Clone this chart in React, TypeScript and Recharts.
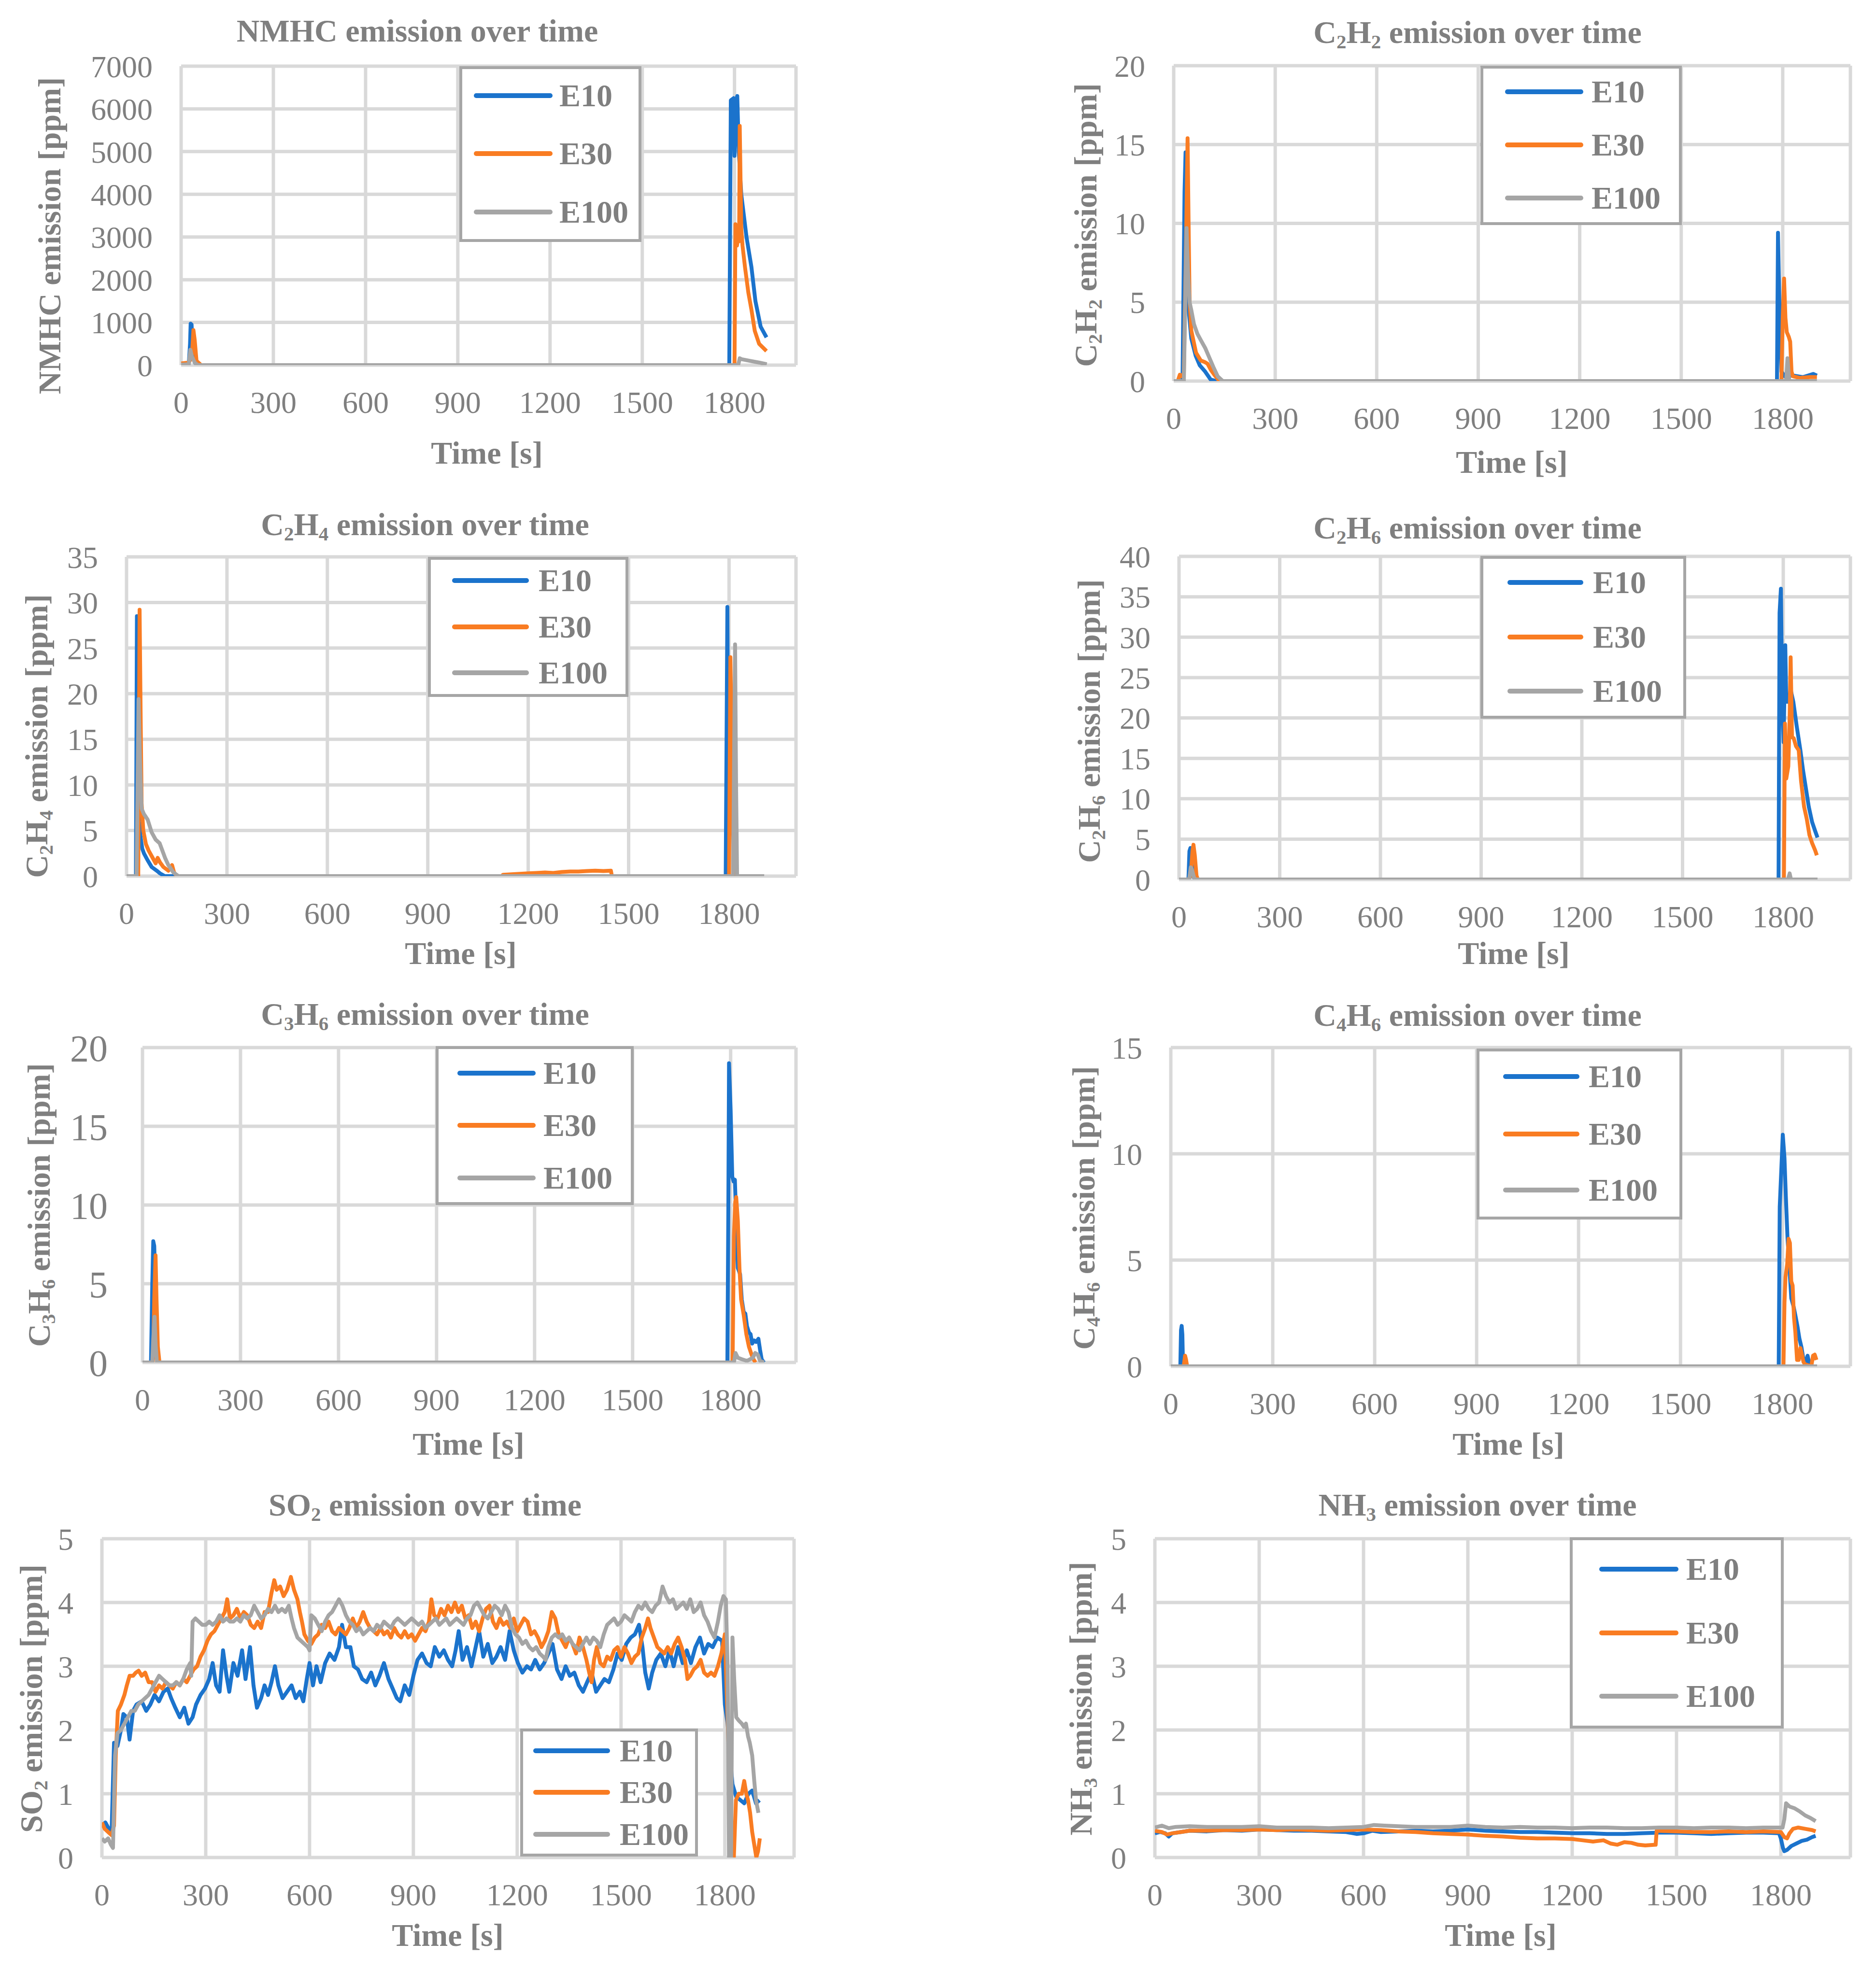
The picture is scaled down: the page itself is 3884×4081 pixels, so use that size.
import { CartesianGrid, Line, LineChart, XAxis, YAxis } from "recharts";

type Pt = [number, number];

const timeTicks = [0, 300, 600, 900, 1200, 1500, 1800];
const seriesNames = ["E10", "E30", "E100"];
const seriesColors = ["#1B73CC", "#F97C22", "#A5A5A5"];

// ---- NMHC ----
const nmhcTicks = [0, 1000, 2000, 3000, 4000, 5000, 6000, 7000];
const nmhcE10: Pt[] = [
  [0, 30], [25, 40], [29, 500], [31, 970], [34, 950], [38, 300], [45, 50], [60, 0],
  [1783, 0], [1788, 6200], [1797, 6250], [1800, 4900], [1805, 6200], [1809, 6300], [1814, 5000],
  [1822, 4000], [1839, 3000], [1855, 2300], [1868, 1500], [1885, 900], [1904, 650],
];
const nmhcE30: Pt[] = [
  [0, 40], [25, 60], [35, 200], [40, 820], [44, 600], [50, 100], [65, 0],
  [1800, 0], [1803, 3300], [1808, 2800], [1812, 3000], [1815, 2900], [1817, 5600], [1822, 3200],
  [1826, 2800], [1834, 2300], [1845, 1700], [1855, 1300], [1866, 800], [1880, 500], [1904, 330],
];
const nmhcE100: Pt[] = [
  [0, 10], [25, 20], [30, 360], [35, 200], [45, 50], [55, 0],
  [1812, 0], [1817, 160], [1822, 140], [1850, 100], [1880, 60], [1905, 20],
];

// ---- C2H2 ----
const c2h2Ticks = [0, 5, 10, 15, 20];
const c2h2E10: Pt[] = [
  [0, 0], [26, 0], [32, 12], [35, 14.5], [38, 9], [42, 5], [52, 2.7], [65, 1.6], [77, 1.0],
  [93, 0.6], [109, 0.1], [126, 0], [1783, 0], [1786, 9.4], [1790, 5], [1796, 0.6], [1806, 0.3],
  [1830, 0.35], [1845, 0.3], [1860, 0.25], [1875, 0.35], [1890, 0.45], [1901, 0.35],
];
const c2h2E30: Pt[] = [
  [0, 0], [12, 0], [18, 0.4], [24, 0.3], [30, 0.5], [36, 8], [41, 15.4], [44, 10], [47, 5],
  [52, 3.2], [58, 2.6], [66, 1.8], [80, 1.3], [92, 1.2], [100, 1.1], [110, 0.7], [120, 0.4],
  [135, 0], [1796, 0], [1800, 4], [1804, 6.5], [1808, 4], [1812, 3.1], [1818, 2.8],
  [1822, 2.5], [1826, 0.6], [1830, 0.3], [1850, 0.2], [1880, 0.25], [1901, 0.25],
];
const c2h2E100: Pt[] = [
  [0, 0], [30, 0], [35, 6], [38, 9.7], [42, 7], [47, 5], [52, 4.5], [60, 3.6], [70, 3.0],
  [80, 2.6], [93, 2.1], [105, 1.5], [117, 0.9], [130, 0.3], [145, 0], [1810, 0], [1814, 1.45],
  [1818, 0.3], [1820, 0], [1901, 0],
];

// ---- C2H4 ----
const c2h4Ticks = [0, 5, 10, 15, 20, 25, 30, 35];
const c2h4E10: Pt[] = [
  [0, 0], [28, 0], [31, 28.5], [34, 15], [38, 6], [41, 4.5], [47, 3], [52, 2.5], [62, 1.8],
  [75, 1.0], [90, 0.6], [100, 0.3], [114, 0], [1790, 0], [1795, 29.5], [1799, 0],
];
const c2h4E30: Pt[] = [
  [0, 0], [35, 0], [37, 15], [39, 29.2], [42, 18], [45, 8], [50, 5], [58, 3.5], [66, 2.8],
  [78, 2.0], [87, 1.4], [93, 2.0], [100, 1.5], [110, 1.0], [125, 0.6], [136, 1.2], [142, 0.4],
  [150, 0], [1120, 0], [1125, 0.15], [1150, 0.2], [1175, 0.25], [1200, 0.3], [1225, 0.35],
  [1250, 0.4], [1275, 0.35], [1300, 0.45], [1325, 0.5], [1350, 0.5], [1375, 0.55], [1400, 0.6],
  [1425, 0.55], [1447, 0.6], [1450, 0], [1800, 0], [1804, 24], [1808, 14], [1812, 5], [1815, 0],
];
const c2h4E100: Pt[] = [
  [0, 0], [30, 0], [33, 10], [36, 19.4], [40, 13], [45, 7.4], [52, 6.8], [63, 6.2], [75, 4.8],
  [87, 4.0], [99, 3.6], [107, 2.8], [115, 2.0], [125, 1.2], [140, 0.4], [155, 0], [1812, 0],
  [1818, 25.4], [1821, 10], [1824, 0], [1905, 0],
];

// ---- C2H6 ----
const c2h6Ticks = [0, 5, 10, 15, 20, 25, 30, 35, 40];
const c2h6E10: Pt[] = [
  [0, 0], [28, 0], [31, 3.5], [34, 3.9], [38, 2], [42, 0.4], [48, 0], [1786, 0], [1789, 33],
  [1793, 36], [1797, 22], [1801, 17], [1806, 29], [1809, 22], [1815, 22], [1822, 23.5],
  [1830, 22], [1840, 19], [1851, 16], [1859, 13.5], [1867, 11.4], [1876, 9], [1886, 7.1],
  [1895, 6], [1902, 5.2],
];
const c2h6E30: Pt[] = [
  [0, 0], [28, 0], [35, 0.5], [40, 3.5], [43, 4.3], [47, 3], [52, 0.5], [56, 0], [1802, 0],
  [1805, 19.3], [1809, 12.5], [1815, 14], [1819, 20], [1822, 27.5], [1826, 17.6], [1831, 17.5],
  [1838, 16.5], [1846, 16], [1853, 12.2], [1862, 9], [1870, 7.5], [1878, 5.5], [1886, 4.5],
  [1895, 3.6], [1900, 3],
];
const c2h6E100: Pt[] = [
  [0, 0], [30, 0], [35, 1.5], [38, 1.3], [45, 0.2], [50, 0], [1814, 0], [1819, 0.75],
  [1823, 0], [1902, 0],
];

// ---- C3H6 ----
const c3h6Ticks = [0, 5, 10, 15, 20];
const c3h6E10: Pt[] = [
  [0, 0], [26, 0], [30, 5], [33, 7.7], [36, 7.4], [40, 4], [44, 0.5], [48, 0.2], [52, 0],
  [1790, 0], [1793, 10], [1795, 19], [1800, 16], [1805, 11.8], [1809, 11.5], [1813, 11.6],
  [1817, 9], [1822, 6], [1829, 5.6], [1834, 4], [1840, 3.2], [1845, 3.1], [1850, 2.3],
  [1856, 1.9], [1861, 1.8], [1866, 1.2], [1872, 1.4], [1878, 1.3], [1885, 1.5], [1890, 0.8],
  [1895, 0.2], [1902, 0],
];
const c3h6E30: Pt[] = [
  [0, 0], [30, 0], [33, 0.3], [36, 4], [40, 6.8], [43, 4], [47, 1], [52, 0], [1806, 0],
  [1810, 8], [1814, 10.2], [1817, 10.5], [1822, 9], [1827, 6], [1832, 4.0], [1840, 3],
  [1848, 1.8], [1856, 1.0], [1864, 0.5], [1870, 0.2], [1876, 0],
];
const c3h6E100: Pt[] = [
  [0, 0], [30, 0], [33, 1.5], [37, 2.9], [40, 1.2], [44, 0], [1810, 0], [1815, 0.6],
  [1822, 0.3], [1835, 0.2], [1850, 0.1], [1868, 0.3], [1875, 0.6], [1883, 0.5], [1890, 0.1],
  [1902, 0],
];

// ---- C4H6 ----
const c4h6Ticks = [0, 5, 10, 15];
const c4h6E10: Pt[] = [
  [0, 0], [28, 0], [30, 1.7], [32, 1.9], [34, 1.5], [36, 0], [1789, 0], [1792, 7.5], [1796, 9],
  [1801, 10.9], [1806, 9.8], [1810, 8], [1815, 6], [1820, 4.8], [1826, 3.2], [1833, 2.8],
  [1838, 2.4], [1844, 1.9], [1850, 1.3], [1856, 0.9], [1862, 0.3], [1868, 0.2], [1874, 0.5],
  [1878, 0.2], [1881, 0],
];
const c4h6E30: Pt[] = [
  [0, 0], [38, 0], [42, 0.5], [45, 0.3], [48, 0], [1803, 0], [1806, 3], [1809, 4.2],
  [1814, 4.8], [1818, 6.0], [1822, 5.8], [1826, 4.0], [1830, 3.8], [1834, 2.3], [1838, 1.6],
  [1843, 0.3], [1848, 0.3], [1853, 0.86], [1858, 0.5], [1862, 0.2], [1866, 0.1], [1885, 0],
  [1890, 0.5], [1895, 0.55], [1900, 0.3],
];
const c4h6E100: Pt[] = [[0, 0], [1902, 0]];

// ---- SO2 ----
const so2Ticks = [0, 1, 2, 3, 4, 5];
const so2E10: Pt[] = [
  [0, 0.5], [10, 0.55], [20, 0.45], [28, 0.4], [35, 1.8], [45, 1.75], [55, 2.0], [62, 2.25],
  [72, 2.2], [80, 1.85], [90, 2.3], [100, 2.4], [115, 2.45], [128, 2.3], [140, 2.4], [152, 2.55],
  [165, 2.45], [178, 2.6], [190, 2.65], [200, 2.5], [212, 2.35], [225, 2.2], [238, 2.35],
  [250, 2.1], [262, 2.2], [272, 2.4], [285, 2.55], [298, 2.65], [310, 2.8], [320, 3.05],
  [330, 2.7], [340, 2.6], [350, 3.25], [360, 2.85], [368, 2.6], [380, 3.05], [392, 2.85],
  [405, 3.25], [415, 2.8], [428, 3.3], [438, 2.7], [448, 2.35], [460, 2.5], [470, 2.7],
  [480, 2.55], [490, 2.75], [500, 3.0], [510, 2.7], [522, 2.5], [535, 2.6], [548, 2.7],
  [560, 2.5], [572, 2.6], [582, 2.45], [592, 2.8], [600, 3.05], [610, 2.7], [620, 3.0],
  [632, 2.75], [645, 3.05], [658, 3.2], [672, 3.1], [685, 3.3], [694, 3.65], [705, 3.3],
  [718, 3.3], [728, 3.0], [740, 2.95], [752, 2.8], [765, 2.75], [778, 2.9], [790, 2.7],
  [802, 2.85], [815, 3.05], [828, 2.8], [840, 2.65], [852, 2.5], [862, 2.45], [875, 2.7],
  [888, 2.55], [900, 2.85], [912, 3.1], [925, 3.2], [938, 3.05], [950, 3.0], [962, 3.3],
  [975, 3.15], [988, 3.25], [1000, 3.1], [1012, 3.0], [1022, 3.25], [1031, 3.55], [1042, 3.1],
  [1055, 3.3], [1068, 3.0], [1080, 3.3], [1090, 3.55], [1102, 3.15], [1115, 3.35], [1128, 3.05],
  [1140, 3.15], [1152, 3.3], [1165, 3.1], [1178, 3.55], [1190, 3.25], [1202, 3.05], [1215, 2.9],
  [1228, 3.0], [1240, 2.95], [1252, 3.1], [1265, 2.95], [1278, 3.05], [1290, 3.2], [1302, 3.35],
  [1315, 2.95], [1328, 2.8], [1340, 3.0], [1352, 2.85], [1365, 2.9], [1378, 2.7], [1390, 2.6],
  [1402, 2.75], [1415, 2.9], [1428, 2.6], [1440, 2.7], [1452, 2.8], [1465, 2.75], [1478, 2.95],
  [1490, 3.2], [1502, 3.1], [1515, 3.35], [1528, 3.45], [1540, 3.5], [1552, 3.65], [1562, 3.3],
  [1570, 2.9], [1580, 2.65], [1590, 2.9], [1602, 3.1], [1615, 3.2], [1628, 3.0], [1640, 3.25],
  [1652, 3.0], [1665, 3.3], [1678, 3.05], [1690, 3.25], [1702, 3.05], [1715, 3.3], [1728, 3.45],
  [1740, 3.2], [1752, 3.35], [1765, 3.3], [1778, 3.45], [1792, 3.4], [1800, 2.4], [1808, 2.1],
  [1815, 1.6], [1822, 1.15], [1833, 0.95], [1845, 0.9], [1856, 0.85], [1868, 1.0], [1879, 1.05],
  [1890, 0.85], [1900, 0.9],
];
const so2E30: Pt[] = [
  [0, 0.55], [8, 0.45], [18, 0.4], [28, 0.35], [35, 0.5], [40, 1.6], [46, 2.3], [55, 2.4],
  [65, 2.55], [72, 2.7], [80, 2.85], [90, 2.85], [98, 2.9], [106, 2.93], [115, 2.85], [125, 2.9],
  [135, 2.75], [145, 2.75], [155, 2.6], [165, 2.7], [175, 2.65], [185, 2.75], [195, 2.7],
  [205, 2.65], [215, 2.75], [225, 2.7], [235, 2.8], [245, 2.75], [255, 2.85], [265, 2.95],
  [275, 3.0], [285, 3.15], [295, 3.25], [305, 3.4], [315, 3.5], [325, 3.55], [335, 3.65],
  [345, 3.75], [355, 3.85], [362, 4.05], [370, 3.75], [380, 3.8], [390, 3.9], [400, 3.75],
  [410, 3.85], [420, 3.8], [430, 3.65], [440, 3.6], [450, 3.7], [460, 3.6], [470, 3.85],
  [480, 3.85], [490, 4.15], [498, 4.35], [505, 4.2], [515, 4.25], [525, 4.1], [535, 4.2],
  [546, 4.4], [555, 4.2], [565, 4.05], [572, 3.85], [578, 3.7], [585, 3.5], [595, 3.4],
  [605, 3.35], [615, 3.45], [625, 3.5], [635, 3.65], [645, 3.6], [655, 3.7], [665, 3.55],
  [675, 3.5], [685, 3.6], [695, 3.55], [705, 3.5], [715, 3.6], [725, 3.75], [735, 3.6],
  [745, 3.7], [755, 3.85], [765, 3.7], [775, 3.6], [785, 3.55], [795, 3.5], [805, 3.6],
  [815, 3.5], [825, 3.55], [835, 3.45], [845, 3.6], [855, 3.5], [865, 3.45], [875, 3.55],
  [885, 3.45], [895, 3.5], [905, 3.4], [915, 3.5], [925, 3.6], [935, 3.55], [945, 3.7],
  [952, 4.05], [960, 3.8], [970, 3.75], [980, 3.9], [990, 3.8], [1000, 3.95], [1010, 3.85],
  [1020, 4.0], [1030, 3.85], [1040, 3.95], [1050, 3.75], [1060, 3.8], [1070, 3.6], [1080, 3.7],
  [1090, 3.55], [1100, 3.75], [1110, 3.9], [1120, 3.95], [1130, 3.7], [1140, 3.6], [1150, 3.75],
  [1160, 3.65], [1170, 3.7], [1180, 3.6], [1190, 3.75], [1200, 3.55], [1210, 3.65], [1220, 3.75],
  [1230, 3.7], [1240, 3.5], [1250, 3.55], [1260, 3.45], [1270, 3.3], [1280, 3.4], [1290, 3.55],
  [1300, 3.85], [1310, 3.75], [1320, 3.5], [1330, 3.4], [1340, 3.3], [1350, 3.45], [1360, 3.35],
  [1370, 3.2], [1380, 3.45], [1390, 3.3], [1400, 3.1], [1408, 2.9], [1415, 2.75], [1422, 3.1],
  [1430, 3.3], [1440, 3.05], [1450, 3.0], [1460, 3.15], [1470, 3.1], [1480, 3.25], [1490, 3.3],
  [1500, 3.15], [1510, 3.3], [1520, 3.2], [1530, 3.05], [1540, 3.15], [1550, 3.2], [1560, 3.45],
  [1570, 3.6], [1578, 3.75], [1585, 3.6], [1595, 3.45], [1605, 3.3], [1615, 3.25], [1625, 3.2],
  [1635, 3.3], [1645, 3.2], [1655, 3.35], [1665, 3.45], [1675, 3.3], [1685, 3.1], [1692, 2.8],
  [1700, 2.85], [1710, 2.95], [1720, 3.0], [1730, 3.1], [1740, 2.9], [1750, 2.85], [1760, 2.9],
  [1770, 2.85], [1780, 3.0], [1790, 3.2], [1800, 3.5], [1806, 2.5], [1815, 1.0], [1822, 0.0],
  [1826, 0.0], [1832, 0.9], [1840, 1.0], [1849, 1.0], [1856, 1.2], [1862, 1.0], [1867, 0.9],
  [1873, 0.7], [1879, 0.4], [1885, 0.2], [1891, 0.0], [1896, 0.1], [1901, 0.3],
];
const so2E100: Pt[] = [
  [0, 0.3], [8, 0.25], [18, 0.3], [26, 0.2], [32, 0.15], [38, 1.6], [45, 1.95], [55, 2.0],
  [65, 2.1], [75, 2.2], [85, 2.3], [95, 2.3], [105, 2.4], [115, 2.45], [125, 2.5], [135, 2.55],
  [145, 2.65], [155, 2.75], [165, 2.85], [175, 2.8], [185, 2.75], [195, 2.7], [205, 2.7],
  [215, 2.75], [225, 2.7], [235, 2.8], [245, 2.95], [255, 3.05], [258, 2.85], [262, 3.7],
  [270, 3.75], [280, 3.7], [290, 3.65], [300, 3.65], [310, 3.7], [320, 3.65], [330, 3.7],
  [340, 3.8], [350, 3.7], [360, 3.75], [370, 3.7], [380, 3.7], [390, 3.75], [400, 3.7],
  [410, 3.8], [420, 3.75], [430, 3.8], [440, 3.95], [450, 3.85], [460, 3.75], [470, 3.8],
  [480, 3.9], [490, 3.85], [500, 3.95], [510, 3.85], [520, 3.9], [530, 3.85], [540, 3.95],
  [548, 3.75], [555, 3.6], [565, 3.45], [575, 3.4], [585, 3.35], [595, 3.3], [600, 3.25],
  [605, 3.8], [615, 3.75], [625, 3.65], [635, 3.55], [645, 3.7], [655, 3.8], [665, 3.85],
  [675, 3.95], [685, 4.05], [695, 3.95], [705, 3.8], [715, 3.7], [725, 3.65], [735, 3.55],
  [745, 3.6], [755, 3.5], [765, 3.55], [775, 3.6], [785, 3.55], [795, 3.65], [805, 3.6],
  [815, 3.7], [825, 3.65], [835, 3.6], [845, 3.7], [855, 3.75], [865, 3.7], [875, 3.65],
  [885, 3.7], [895, 3.75], [905, 3.7], [915, 3.65], [925, 3.7], [935, 3.6], [945, 3.65],
  [955, 3.7], [965, 3.75], [975, 3.65], [985, 3.7], [995, 3.75], [1005, 3.65], [1015, 3.7],
  [1025, 3.75], [1035, 3.7], [1045, 3.65], [1055, 3.75], [1065, 3.8], [1075, 3.95], [1085, 4.0],
  [1095, 3.9], [1105, 3.8], [1115, 3.75], [1125, 3.85], [1135, 3.95], [1145, 3.9], [1155, 3.8],
  [1165, 3.95], [1175, 3.85], [1185, 3.6], [1195, 3.5], [1205, 3.45], [1215, 3.35], [1225, 3.4],
  [1235, 3.3], [1245, 3.25], [1255, 3.3], [1265, 3.2], [1275, 3.15], [1282, 3.1], [1290, 3.3],
  [1300, 3.45], [1310, 3.5], [1320, 3.45], [1330, 3.5], [1340, 3.4], [1350, 3.45], [1360, 3.35],
  [1370, 3.3], [1380, 3.25], [1390, 3.35], [1400, 3.45], [1410, 3.35], [1420, 3.45], [1430, 3.4],
  [1440, 3.3], [1450, 3.5], [1460, 3.65], [1470, 3.7], [1480, 3.75], [1490, 3.65], [1500, 3.7],
  [1510, 3.8], [1520, 3.75], [1530, 3.7], [1540, 3.85], [1550, 3.95], [1560, 3.9], [1570, 4.0],
  [1580, 3.9], [1590, 3.85], [1600, 3.95], [1610, 4.0], [1620, 4.25], [1630, 4.1], [1640, 4.0],
  [1650, 4.05], [1660, 3.9], [1670, 3.95], [1680, 4.0], [1690, 3.9], [1700, 4.05], [1710, 3.85],
  [1720, 3.9], [1730, 4.0], [1740, 3.8], [1750, 3.7], [1760, 3.55], [1770, 3.45], [1780, 3.7],
  [1788, 3.95], [1796, 4.1], [1803, 4.05], [1808, 3.0], [1812, 0.0], [1818, 0.0], [1822, 3.45],
  [1827, 2.8], [1833, 2.2], [1840, 2.15], [1849, 2.1], [1855, 2.05], [1861, 2.1], [1867, 1.9],
  [1872, 1.8], [1879, 1.6], [1885, 1.2], [1890, 0.9], [1897, 0.7],
];

// ---- NH3 ----
const nh3Ticks = [0, 1, 2, 3, 4, 5];
const nh3E10: Pt[] = [
  [0, 0.38], [15, 0.4], [30, 0.38], [40, 0.33], [50, 0.38], [75, 0.4], [100, 0.42], [150, 0.41],
  [200, 0.43], [250, 0.42], [300, 0.44], [350, 0.43], [400, 0.42], [450, 0.42], [500, 0.41],
  [550, 0.4], [580, 0.37], [600, 0.38], [625, 0.42], [650, 0.4], [700, 0.41], [750, 0.42],
  [800, 0.41], [850, 0.42], [900, 0.44], [950, 0.42], [1000, 0.41], [1050, 0.4], [1100, 0.4],
  [1150, 0.39], [1200, 0.38], [1250, 0.38], [1300, 0.37], [1350, 0.37], [1400, 0.38],
  [1450, 0.39], [1500, 0.39], [1550, 0.38], [1600, 0.37], [1650, 0.38], [1700, 0.39],
  [1750, 0.39], [1795, 0.38], [1800, 0.3], [1806, 0.15], [1810, 0.1], [1818, 0.12], [1830, 0.18],
  [1845, 0.22], [1860, 0.26], [1875, 0.28], [1890, 0.32], [1900, 0.34],
];
const nh3E30: Pt[] = [
  [0, 0.42], [20, 0.4], [35, 0.36], [50, 0.38], [75, 0.4], [100, 0.42], [150, 0.42], [200, 0.43],
  [250, 0.43], [300, 0.44], [350, 0.43], [400, 0.44], [450, 0.43], [500, 0.42], [550, 0.43],
  [600, 0.44], [650, 0.43], [700, 0.41], [750, 0.4], [800, 0.38], [850, 0.37], [900, 0.36],
  [950, 0.34], [1000, 0.33], [1050, 0.31], [1100, 0.3], [1150, 0.3], [1200, 0.29], [1230, 0.27],
  [1260, 0.25], [1290, 0.27], [1310, 0.22], [1330, 0.2], [1350, 0.24], [1370, 0.23], [1390, 0.2],
  [1410, 0.19], [1440, 0.2], [1443, 0.42], [1500, 0.41], [1550, 0.4], [1600, 0.4], [1650, 0.41],
  [1700, 0.4], [1750, 0.41], [1800, 0.4], [1810, 0.32], [1818, 0.3], [1825, 0.38], [1835, 0.45],
  [1850, 0.47], [1870, 0.45], [1890, 0.43], [1900, 0.41],
];
const nh3E100: Pt[] = [
  [0, 0.47], [20, 0.5], [40, 0.46], [60, 0.48], [100, 0.49], [150, 0.48], [200, 0.48],
  [250, 0.48], [300, 0.49], [350, 0.47], [400, 0.47], [450, 0.47], [500, 0.46], [550, 0.47],
  [600, 0.48], [630, 0.51], [660, 0.5], [700, 0.49], [750, 0.48], [800, 0.48], [850, 0.48],
  [900, 0.5], [950, 0.48], [1000, 0.47], [1050, 0.48], [1100, 0.47], [1150, 0.47], [1200, 0.46],
  [1250, 0.47], [1300, 0.47], [1350, 0.46], [1400, 0.46], [1450, 0.47], [1500, 0.47],
  [1550, 0.46], [1600, 0.47], [1650, 0.47], [1700, 0.46], [1750, 0.47], [1805, 0.47],
  [1810, 0.6], [1815, 0.85], [1825, 0.8], [1840, 0.77], [1855, 0.72], [1870, 0.66], [1885, 0.62],
  [1900, 0.57],
];

const FONT = '"Liberation Serif", "Times New Roman", serif';
const TEXT = "#7F7F7F";
const GRID = "#D9D9D9";

type Panel = {
  title: string;
  yLabel: string;
  series: Pt[][];
  yTicks: number[];
  plot: [number, number, number, number];
  titleAt: [number, number];
  yLabelAt: [number, number];
  xLabelAt: [number, number];
  legendBox: [number, number, number, number];
  legendRows: number[];
  legendLine: [number, number];
  legendText: number;
  yTickSize?: number;
  yTickGap?: number;
};

const panels: Panel[] = [
  {
    title: "NMHC emission over time", yLabel: "NMHC emission [ppm]",
    series: [nmhcE10, nmhcE30, nmhcE100], yTicks: nmhcTicks,
    plot: [375, 137, 1648, 756], titleAt: [864, 64], yLabelAt: [103, 488], xLabelAt: [1008, 938],
    legendBox: [951, 137, 1328, 501], legendRows: [198, 318, 439], legendLine: [981, 1144], legendText: 1158,
  },
  {
    title: "C_2H_2 emission over time", yLabel: "C_2H_2 emission [ppm]",
    series: [c2h2E10, c2h2E30, c2h2E100], yTicks: c2h2Ticks,
    plot: [2430, 136, 3831, 789], titleAt: [3059, 67], yLabelAt: [2248, 466], xLabelAt: [3130, 957],
    legendBox: [3065, 136, 3482, 466], legendRows: [190, 300, 410], legendLine: [3116, 3278], legendText: 3295,
  },
  {
    title: "C_2H_4 emission over time", yLabel: "C_2H_4 emission [ppm]",
    series: [c2h4E10, c2h4E30, c2h4E100], yTicks: c2h4Ticks,
    plot: [262, 1153, 1648, 1814], titleAt: [880, 1086], yLabelAt: [76, 1524], xLabelAt: [954, 1974],
    legendBox: [886, 1153, 1301, 1443], legendRows: [1202, 1298, 1393], legendLine: [936, 1095], legendText: 1115,
  },
  {
    title: "C_2H_6 emission over time", yLabel: "C_2H_6 emission [ppm]",
    series: [c2h6E10, c2h6E30, c2h6E100], yTicks: c2h6Ticks,
    plot: [2441, 1152, 3831, 1821], titleAt: [3059, 1093], yLabelAt: [2255, 1493], xLabelAt: [3134, 1974],
    legendBox: [3065, 1151, 3491, 1488], legendRows: [1206, 1319, 1431], legendLine: [3121, 3278], legendText: 3298,
  },
  {
    title: "C_3H_6 emission over time", yLabel: "C_3H_6 emission [ppm]",
    series: [c3h6E10, c3h6E30, c3h6E100], yTicks: c3h6Ticks,
    plot: [295, 2169, 1648, 2821], titleAt: [880, 2100], yLabelAt: [81, 2495], xLabelAt: [970, 2990],
    legendBox: [902, 2166, 1312, 2495], legendRows: [2222, 2330, 2439], legendLine: [947, 1109], legendText: 1125,
    yTickSize: 78, yTickGap: 72,
  },
  {
    title: "C_4H_6 emission over time", yLabel: "C_4H_6 emission [ppm]",
    series: [c4h6E10, c4h6E30, c4h6E100], yTicks: c4h6Ticks,
    plot: [2424, 2169, 3831, 2829], titleAt: [3059, 2102], yLabelAt: [2244, 2501], xLabelAt: [3123, 2990],
    legendBox: [3057, 2171, 3483, 2525], legendRows: [2229, 2348, 2464], legendLine: [3112, 3270], legendText: 3289,
  },
  {
    title: "SO_2 emission over time", yLabel: "SO_2 emission [ppm]",
    series: [so2E10, so2E30, so2E100], yTicks: so2Ticks,
    plot: [211, 3186, 1644, 3846], titleAt: [880, 3116], yLabelAt: [65, 3517], xLabelAt: [927, 4007],
    legendBox: [1077, 3579, 1445, 3844], legendRows: [3625, 3711, 3798], legendLine: [1104, 1263], legendText: 1283,
  },
  {
    title: "NH_3 emission over time", yLabel: "NH_3 emission [ppm]",
    series: [nh3E10, nh3E30, nh3E100], yTicks: nh3Ticks,
    plot: [2391, 3186, 3831, 3846], titleAt: [3059, 3116], yLabelAt: [2238, 3517], xLabelAt: [3107, 4007],
    legendBox: [3250, 3183, 3693, 3579], legendRows: [3249, 3381, 3512], legendLine: [3311, 3475], legendText: 3491,
  },
];

function Formula({ text }: { text: string }) {
  const parts = text.split(/_(\d)/);
  return (
    <>
      {parts.map((p, i) =>
        i % 2 === 1 ? (
          <sub key={i} style={{ fontSize: "0.62em", verticalAlign: "-0.28em", lineHeight: 0 }}>
            {p}
          </sub>
        ) : (
          <span key={i} style={{ whiteSpace: "pre" }}>{p}</span>
        )
      )}
    </>
  );
}

const textBase = {
  position: "absolute" as const,
  fontFamily: FONT,
  fontWeight: 700,
  fontSize: 66,
  color: TEXT,
  lineHeight: 1,
  whiteSpace: "nowrap" as const,
};

function ChartPanel({ p }: { p: Panel }) {
  const [pl, pt, pr, pb] = p.plot;
  const padL = 250;
  const padT = 80;
  const padR = 30;
  const padB = 200;
  const width = pr - pl + padL + padR;
  const height = pb - pt + padT + padB;
  const yMax = p.yTicks[p.yTicks.length - 1];
  const [bx0, by0, bx1, by1] = p.legendBox;

  return (
    <>
      <div style={{ position: "absolute", left: pl - padL, top: pt - padT }}>
        <LineChart
          width={width}
          height={height}
          margin={{ top: padT, right: padR, bottom: 0, left: 0 }}
          style={{ overflow: "visible" }}
        >
          <CartesianGrid stroke={GRID} strokeWidth={7} />
          <XAxis
            type="number"
            dataKey="t"
            domain={[0, 2000]}
            ticks={timeTicks}
            interval={0}
            height={padB}
            axisLine={false}
            tickLine={false}
            tickSize={0}
            tickMargin={54}
            tick={{ fill: TEXT, fontSize: 64, fontFamily: FONT }}
            allowDataOverflow
          />
          <YAxis
            type="number"
            domain={[0, yMax]}
            ticks={p.yTicks}
            interval={0}
            width={padL}
            axisLine={false}
            tickLine={false}
            tickSize={0}
            tickMargin={p.yTickGap ?? 59}
            tick={{ fill: TEXT, fontSize: p.yTickSize ?? 64, fontFamily: FONT }}
            allowDataOverflow
          />
          {p.series.map((s, i) => (
            <Line
              key={seriesNames[i]}
              data={s.map(([t, v]) => ({ t, v }))}
              dataKey="v"
              name={seriesNames[i]}
              type="linear"
              stroke={seriesColors[i]}
              strokeWidth={8}
              strokeLinejoin="round"
              dot={false}
              activeDot={false}
              isAnimationActive={false}
            />
          ))}
        </LineChart>
      </div>

      <div style={{ ...textBase, left: p.titleAt[0], top: p.titleAt[1], transform: "translate(-50%, -50%)" }}>
        <Formula text={p.title} />
      </div>
      <div
        style={{
          ...textBase,
          left: p.yLabelAt[0],
          top: p.yLabelAt[1],
          transform: "translate(-50%, -50%) rotate(-90deg)",
        }}
      >
        <Formula text={p.yLabel} />
      </div>
      <div style={{ ...textBase, left: p.xLabelAt[0], top: p.xLabelAt[1], transform: "translate(-50%, -50%)" }}>
        Time [s]
      </div>

      <div
        style={{
          position: "absolute",
          left: bx0,
          top: by0,
          width: bx1 - bx0,
          height: by1 - by0,
          boxSizing: "border-box",
          border: "6px solid #A6A6A6",
          background: "#FFFFFF",
        }}
      />
      {seriesNames.map((name, i) => (
        <div key={name}>
          <div
            style={{
              position: "absolute",
              left: p.legendLine[0],
              top: p.legendRows[i] - 5,
              width: p.legendLine[1] - p.legendLine[0],
              height: 10,
              borderRadius: 5,
              background: seriesColors[i],
            }}
          />
          <div style={{ ...textBase, left: p.legendText, top: p.legendRows[i], transform: "translateY(-50%)" }}>
            {name}
          </div>
        </div>
      ))}
    </>
  );
}

export default function App() {
  return (
    <div
      style={{
        position: "absolute",
        left: 0,
        top: 0,
        width: 3884,
        height: 4081,
        background: "#FFFFFF",
        overflow: "hidden",
      }}
    >
      {panels.map((p) => (
        <ChartPanel key={p.title} p={p} />
      ))}
    </div>
  );
}
